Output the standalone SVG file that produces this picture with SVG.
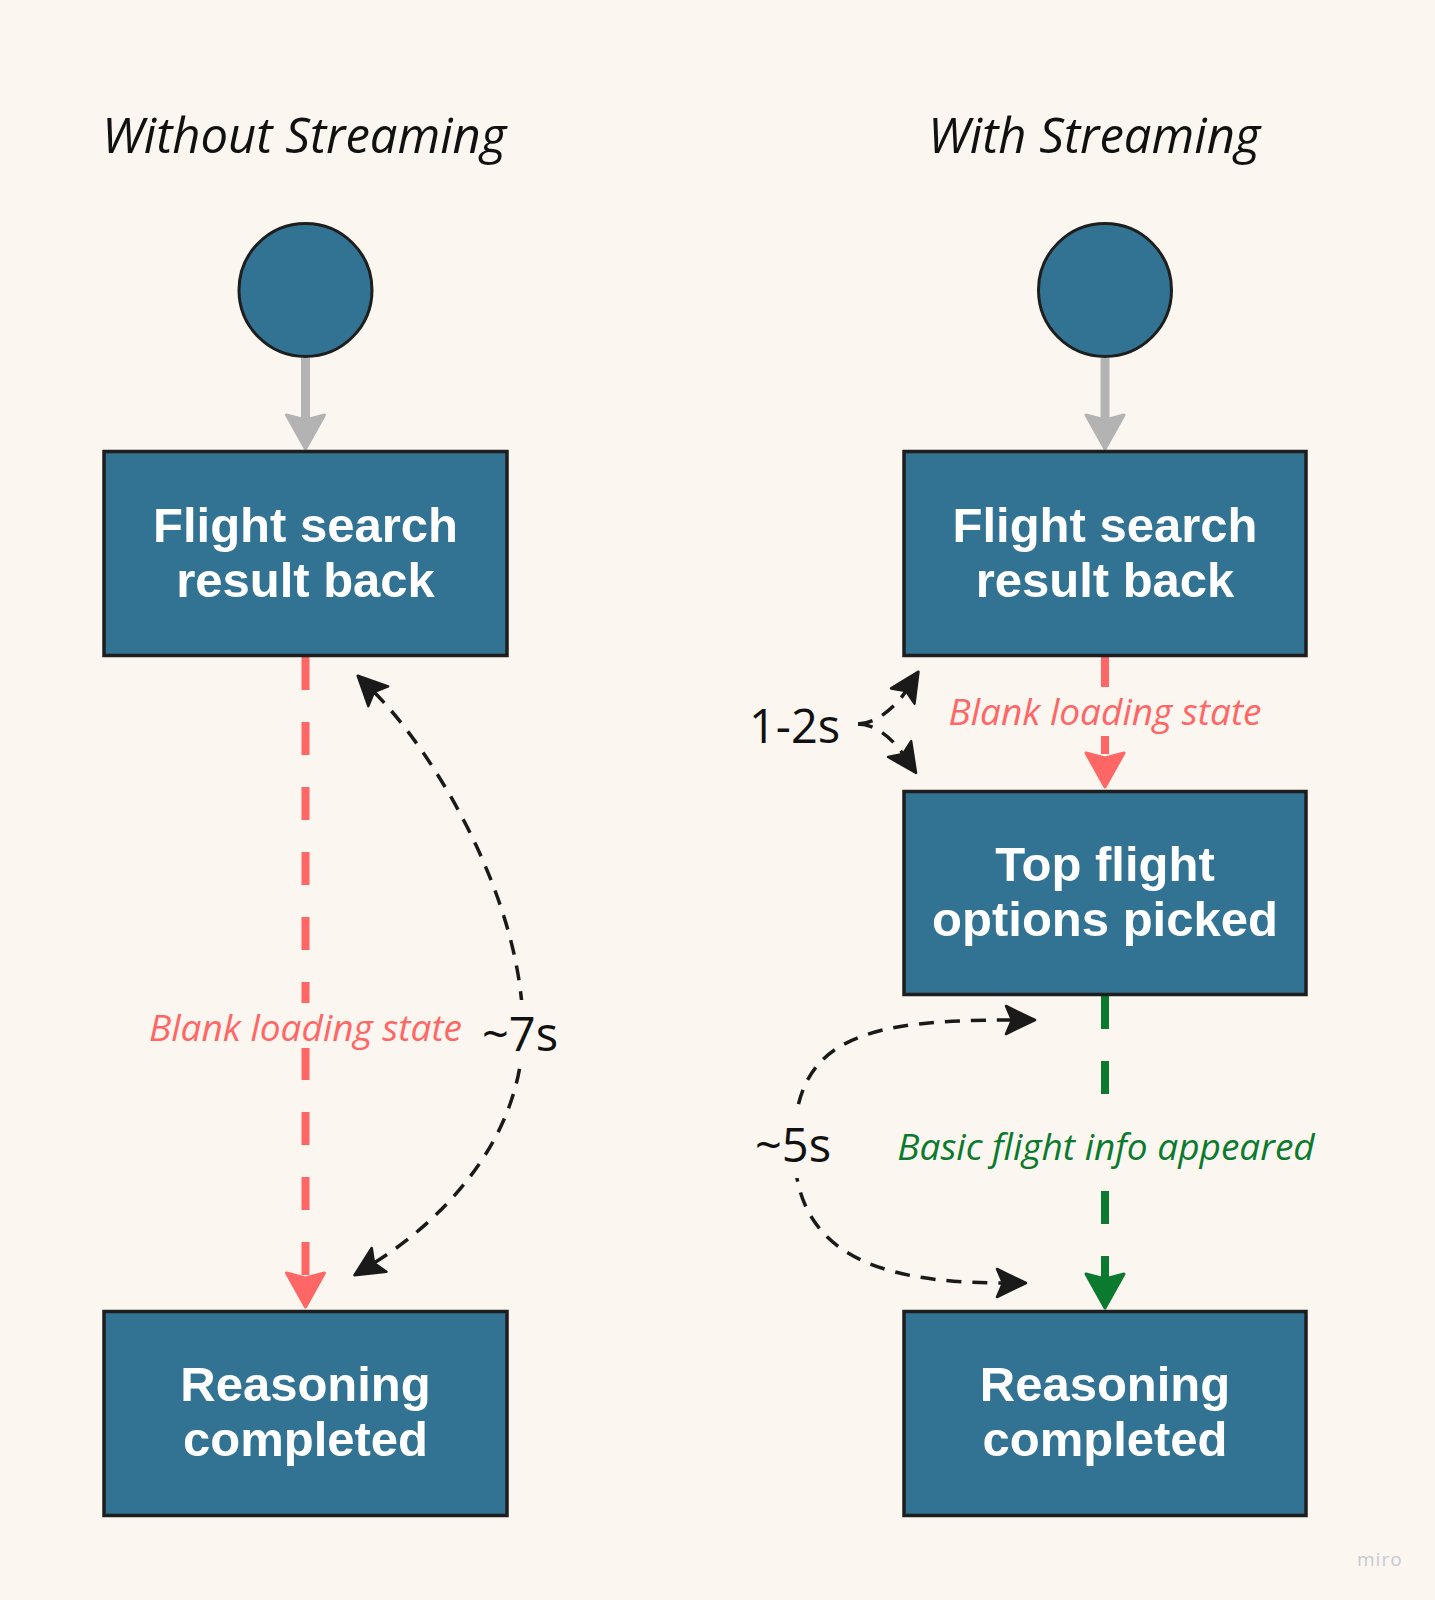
<svg xmlns="http://www.w3.org/2000/svg" width="1435" height="1600" viewBox="0 0 1435 1600">
<style>
.bg{fill:#FBF7F0}
.node{fill:#327393;stroke:#1E1E1E;stroke-width:3.5}
.start{fill:#327393;stroke:#1E1E1E;stroke-width:3}
.ntext{font-family:"Liberation Sans",Arial,sans-serif;font-weight:bold;font-size:49px;fill:#FFFFFF;text-anchor:middle}
.title{font-family:"Open Sans","Noto Sans",sans-serif;font-style:italic;font-size:49px;fill:#111111}
.lbl{font-family:"Open Sans","Noto Sans",sans-serif;font-style:italic;font-size:37px;text-anchor:middle}
.red{fill:#FF6666}
.green{fill:#0B7A2E}
.time{font-family:"Open Sans","Noto Sans",sans-serif;font-size:47px;fill:#111111}
.gray-line{stroke:#B3B3B3;stroke-width:9;fill:none}
.red-line{stroke:#FF6666;stroke-width:8;stroke-dasharray:33 32;fill:none}
.green-line{stroke:#0B7A2E;stroke-width:8;stroke-dasharray:33 32;fill:none}
.curve{stroke:#1A1A1A;stroke-width:3.5;stroke-dasharray:15 11;fill:none}
.mask{fill:#FBF7F0}
.wm{font-family:"Open Sans","Noto Sans",sans-serif;font-size:19px;fill:#C9C7D6;letter-spacing:1px}
</style>
<defs>
<marker id="ah-gray" markerUnits="userSpaceOnUse" viewBox="-10 -25 45 50" markerWidth="45" markerHeight="50" refX="0" refY="0" orient="auto" overflow="visible">
<path d="M29,0 L-5,-19 L0,0 L-5,19 Z" fill="#B3B3B3" stroke="#B3B3B3" stroke-width="3" stroke-linejoin="round"/>
</marker>
<marker id="ah-red" markerUnits="userSpaceOnUse" viewBox="-10 -25 45 50" markerWidth="45" markerHeight="50" refX="0" refY="0" orient="auto" overflow="visible">
<path d="M29,0 L-5,-19 L0,0 L-5,19 Z" fill="#FF6666" stroke="#FF6666" stroke-width="3" stroke-linejoin="round"/>
</marker>
<marker id="ah-green" markerUnits="userSpaceOnUse" viewBox="-10 -25 45 50" markerWidth="45" markerHeight="50" refX="0" refY="0" orient="auto" overflow="visible">
<path d="M29,0 L-5,-19 L0,0 L-5,19 Z" fill="#0B7A2E" stroke="#0B7A2E" stroke-width="3" stroke-linejoin="round"/>
</marker>
<marker id="ah-black" markerUnits="userSpaceOnUse" viewBox="-10 -20 40 40" markerWidth="40" markerHeight="40" refX="0" refY="0" orient="auto-start-reverse" overflow="visible">
<path d="M23,0 L-6,-14 L0,0 L-6,14 Z" fill="#1A1A1A" stroke="#1A1A1A" stroke-width="2.5" stroke-linejoin="round"/>
</marker>
</defs>
<rect class="bg" x="0" y="0" width="1435" height="1600"/>

<g id="titles">
<text class="title" x="102" y="153">Without Streaming</text>
<text class="title" x="928" y="153">With Streaming</text>
</g>

<g id="connectors">
<line class="gray-line" x1="305.5" y1="358" x2="305.5" y2="420" marker-end="url(#ah-gray)"/>
<line class="gray-line" x1="1105" y1="358" x2="1105" y2="420" marker-end="url(#ah-gray)"/>
<line class="red-line" x1="305.5" y1="657" x2="305.5" y2="1278" marker-end="url(#ah-red)"/>
<line class="red-line" x1="1105" y1="656" x2="1105" y2="758" marker-end="url(#ah-red)"/>
<line class="green-line" x1="1105" y1="996" x2="1105" y2="1279" marker-end="url(#ah-green)"/>
<path class="curve" d="M374,692 C434,752 523,900 523,1030 C523,1140 440,1222 374,1263" marker-start="url(#ah-black)" marker-end="url(#ah-black)"/>
<path class="curve" d="M858,724 C875,724 895,708 906,691" marker-end="url(#ah-black)"/>
<path class="curve" d="M858,724 C875,724 892,738 903,754" marker-end="url(#ah-black)"/>
<path class="curve" d="M1012,1020 C870,1020 794,1035 794,1145 C794,1250 870,1283 1003,1283" marker-start="url(#ah-black)" marker-end="url(#ah-black)"/>
<rect class="mask" x="144" y="1003" width="324" height="45"/>
<rect class="mask" x="476" y="1000" width="86" height="64"/>
<rect class="mask" x="944" y="687" width="322" height="49"/>
<rect class="mask" x="890" y="1120" width="430" height="52"/>
<rect class="mask" x="750" y="1110" width="86" height="68"/>
<text class="lbl red" x="305.5" y="1041">Blank loading state</text>
<text class="lbl red" x="1105" y="725">Blank loading state</text>
<text class="lbl green" x="1106" y="1160">Basic flight info appeared</text>
<text class="time" x="482" y="1051">~7s</text>
<text class="time" x="749" y="743">1-2s</text>
<text class="time" x="755" y="1162">~5s</text>
</g>

<g id="start-left"><circle class="start" cx="305.5" cy="290" r="66.5"/></g>
<g id="start-right"><circle class="start" cx="1105" cy="290" r="66.5"/></g>

<g id="left-search">
<rect class="node" x="104" y="451.5" width="403" height="204"/>
<text class="ntext" x="305.5" y="542">Flight search</text>
<text class="ntext" x="305.5" y="597">result back</text>
</g>
<g id="left-reasoning">
<rect class="node" x="104" y="1311.5" width="403" height="204"/>
<text class="ntext" x="305.5" y="1401">Reasoning</text>
<text class="ntext" x="305.5" y="1456">completed</text>
</g>
<g id="right-search">
<rect class="node" x="904" y="451.5" width="402" height="204"/>
<text class="ntext" x="1105" y="542">Flight search</text>
<text class="ntext" x="1105" y="597">result back</text>
</g>
<g id="right-top">
<rect class="node" x="904" y="791.5" width="402" height="203"/>
<text class="ntext" x="1105" y="881">Top flight</text>
<text class="ntext" x="1105" y="936">options picked</text>
</g>
<g id="right-reasoning">
<rect class="node" x="904" y="1311.5" width="402" height="204"/>
<text class="ntext" x="1105" y="1401">Reasoning</text>
<text class="ntext" x="1105" y="1456">completed</text>
</g>

<text class="wm" x="1357" y="1566">miro</text>
</svg>
